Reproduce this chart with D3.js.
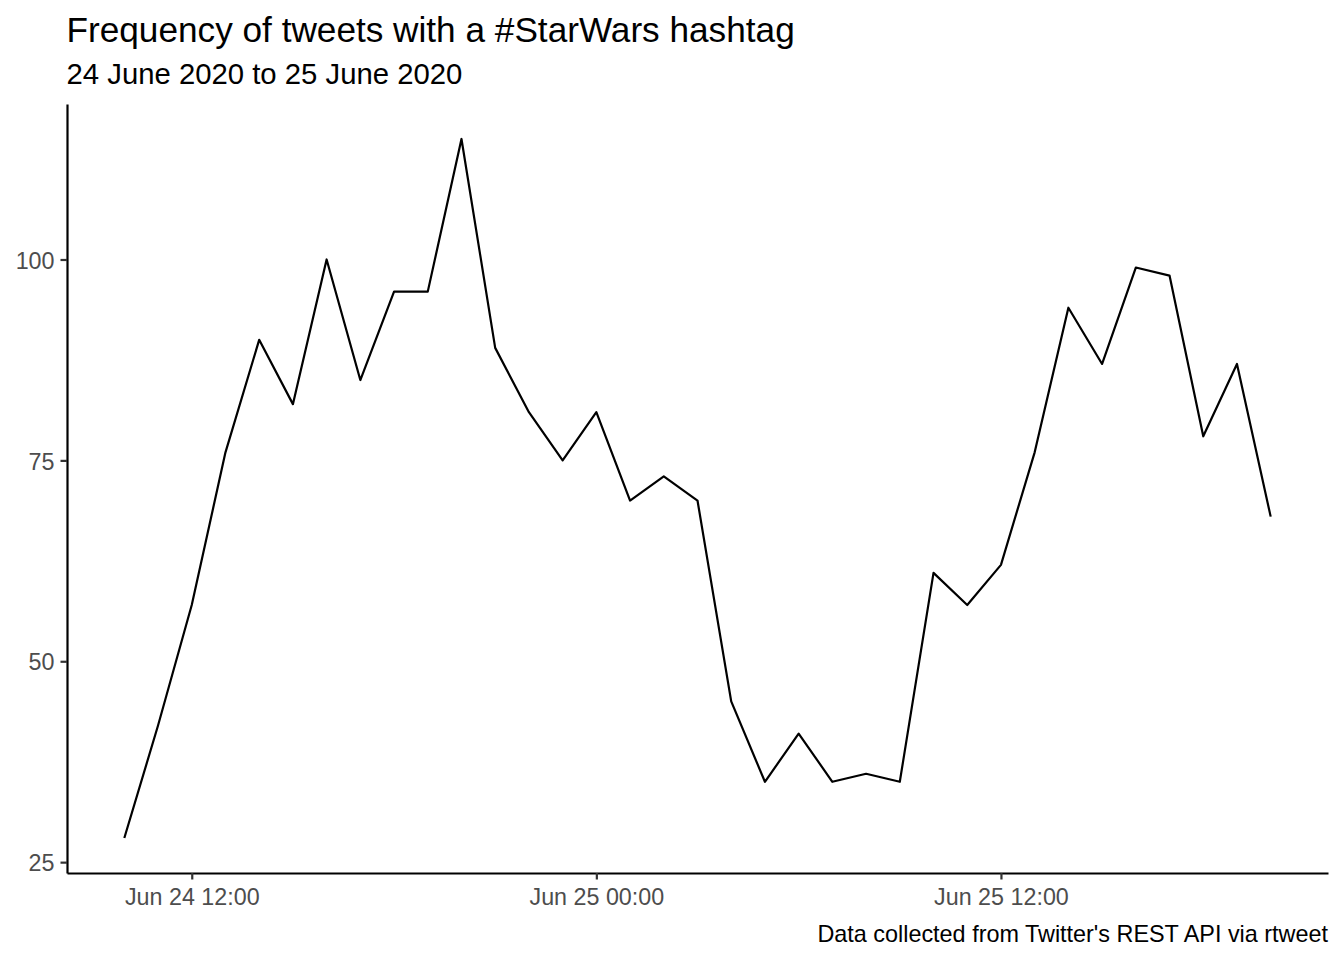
<!DOCTYPE html>
<html>
<head>
<meta charset="utf-8">
<script src="https://cdn.jsdelivr.net/npm/d3@7"></script>
<style>
  html, body { margin: 0; padding: 0; background: #fff; }
  svg { display: block; font-family: "Liberation Sans", Arial, Helvetica, sans-serif; }
</style>
</head>
<body>
<svg id="chart" width="1344" height="960"></svg>
<script>
// Hourly tweet counts, 24 June 2020 10:00 to 25 June 2020 20:00
const hours = [
  "2020-06-24T10:00","2020-06-24T11:00","2020-06-24T12:00","2020-06-24T13:00","2020-06-24T14:00",
  "2020-06-24T15:00","2020-06-24T16:00","2020-06-24T17:00","2020-06-24T18:00","2020-06-24T19:00",
  "2020-06-24T20:00","2020-06-24T21:00","2020-06-24T22:00","2020-06-24T23:00","2020-06-25T00:00",
  "2020-06-25T01:00","2020-06-25T02:00","2020-06-25T03:00","2020-06-25T04:00","2020-06-25T05:00",
  "2020-06-25T06:00","2020-06-25T07:00","2020-06-25T08:00","2020-06-25T09:00","2020-06-25T10:00",
  "2020-06-25T11:00","2020-06-25T12:00","2020-06-25T13:00","2020-06-25T14:00","2020-06-25T15:00",
  "2020-06-25T16:00","2020-06-25T17:00","2020-06-25T18:00","2020-06-25T19:00","2020-06-25T20:00"
];
const counts = [
  28, 42, 57, 76, 90,
  82, 100, 85, 96, 96,
  115, 89, 81, 75, 81,
  70, 73, 70, 45, 35,
  41, 35, 36, 35, 61,
  57, 62, 76, 94, 87,
  99, 98, 78, 87, 68
];
const yTicks = [25, 50, 75, 100];
const xTicks = ["2020-06-24T12:00", "2020-06-25T00:00", "2020-06-25T12:00"];
const titleText = "Frequency of tweets with a #StarWars hashtag";
const subtitleText = "24 June 2020 to 25 June 2020";
const captionText = "Data collected from Twitter's REST API via rtweet";

const parse = d3.timeParse("%Y-%m-%dT%H:%M");
const data = hours.map((h, i) => ({ t: parse(h), v: counts[i] }));

const svg = d3.select("#chart");
const mLeft = 67, mRight = 1328, mTop = 104, mBottom = 873;

// ggplot-style 5% expansion
const tExt = d3.extent(data, d => d.t);
const tSpan = tExt[1] - tExt[0];
const x = d3.scaleTime()
  .domain([new Date(+tExt[0] - 0.05 * tSpan), new Date(+tExt[1] + 0.05 * tSpan)])
  .range([mLeft, mRight]);
const vExt = d3.extent(data, d => d.v);
const vSpan = vExt[1] - vExt[0];
const y = d3.scaleLinear()
  .domain([vExt[0] - 0.05 * vSpan, vExt[1] + 0.05 * vSpan])
  .range([mBottom, mTop]);

// Title / subtitle / caption
svg.append("text").attr("x", 66.5).attr("y", 42)
  .attr("font-size", 35.2).attr("fill", "#000").text(titleText);
svg.append("text").attr("x", 66.5).attr("y", 84)
  .attr("font-size", 29.3).attr("fill", "#000").text(subtitleText);
svg.append("text").attr("x", 1328).attr("y", 942)
  .attr("text-anchor", "end").attr("font-size", 23.4).attr("fill", "#000").text(captionText);

// Axes
const fmt = d3.timeFormat("%b %d %H:%M");
const xAxis = d3.axisBottom(x)
  .tickValues(xTicks.map(parse))
  .tickFormat(fmt)
  .tickSizeInner(6.5).tickSizeOuter(0).tickPadding(4);
const gx = svg.append("g").attr("transform", `translate(0,${mBottom})`).call(xAxis);

const yAxis = d3.axisLeft(y)
  .tickValues(yTicks)
  .tickSizeInner(6.5).tickSizeOuter(0).tickPadding(6);
const gy = svg.append("g").attr("transform", `translate(${mLeft},0)`).call(yAxis);

[gx, gy].forEach(g => {
  g.select(".domain").attr("stroke", "#000").attr("stroke-width", 2.2);
  g.selectAll(".tick line").attr("stroke", "#333").attr("stroke-width", 2.2);
  g.selectAll(".tick text").attr("fill", "#4d4d4d").attr("font-size", 23.3)
    .attr("font-family", "Liberation Sans, Arial, sans-serif");
});
gx.selectAll(".tick text").attr("y", 32).attr("dy", null);
gy.selectAll(".tick text").attr("dy", "0.37em");

// Line
const line = d3.line().x(d => x(d.t)).y(d => y(d.v));
svg.append("path").datum(data)
  .attr("fill", "none").attr("stroke", "#000").attr("stroke-width", 2.2)
  .attr("stroke-linejoin", "round").attr("d", line);
</script>
</body>
</html>
